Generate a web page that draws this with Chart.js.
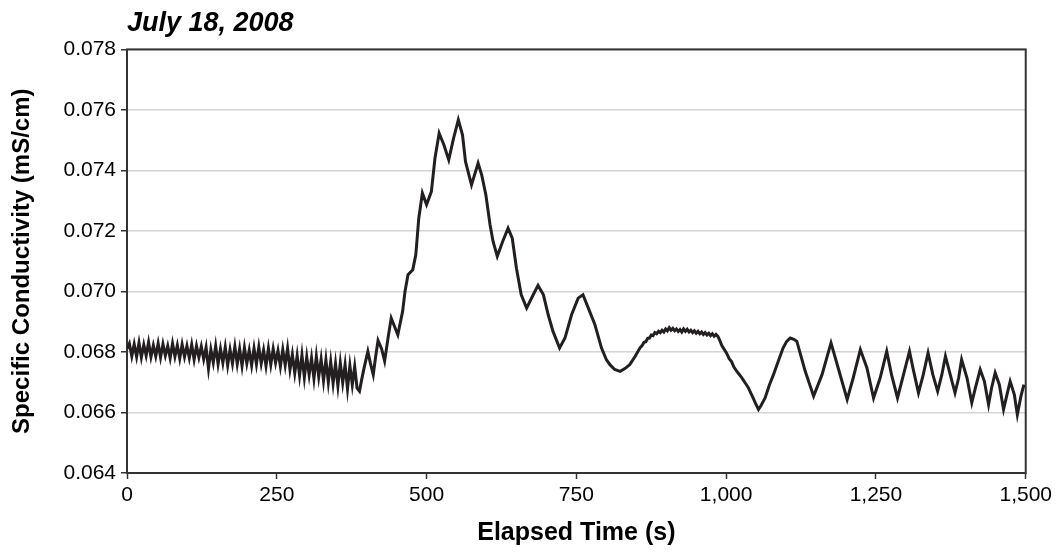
<!DOCTYPE html>
<html>
<head>
<meta charset="utf-8">
<title>Specific Conductivity</title>
<script src="https://cdn.jsdelivr.net/npm/chart.js@4/dist/chart.umd.min.js"></script>
<style>
  body { margin: 0; background: #fff; }
  canvas { display: block; }
</style>
</head>
<body>
<canvas id="chart-cond" width="1056" height="552"></canvas>
<script>
// Elapsed time (s) and specific conductivity (mS/cm) readings
const elapsedSec = [
  0, 4, 8, 12, 16, 20, 24, 28, 32, 36, 40, 44, 48, 52, 56, 60, 64, 68, 72, 76,
  80, 84, 88, 92, 96, 100, 104, 108, 112, 116, 120, 124, 128, 132, 136, 140, 144, 148, 152, 156,
  160, 164, 168, 172, 176, 180, 184, 188, 192, 196, 200, 204, 208, 212, 216, 220, 224, 228, 232, 236,
  240, 244, 248, 252, 256, 260, 264, 268, 272, 276, 280, 284, 288, 292, 296, 300, 304, 308, 312, 316,
  320, 324, 328, 332, 336, 340, 344, 348, 352, 356, 360, 364, 368, 372, 376, 380,
  384, 388, 392, 396, 402, 406, 411, 415, 419, 425, 430, 436, 441, 452, 460, 464, 469, 477, 482, 487,
  493, 500, 508, 514, 521, 529, 537, 545, 553, 560, 565, 575, 586, 592, 599, 606, 611, 618, 627, 636,
  643, 650, 658, 667, 678, 686, 695, 703, 711, 722, 731, 742, 753, 761, 770, 781, 792, 800, 806, 814,
  823, 831, 839, 848, 856,
  860, 863, 866, 869, 872, 875, 878, 881, 884, 887, 890, 893, 896, 899, 902, 905, 908, 911, 914, 917,
  920, 923, 926, 929, 932, 935, 938, 941, 944, 947, 950, 953, 956, 959, 962, 965, 968, 971, 974, 977,
  980, 983, 986, 989,
  993, 997, 1001, 1005, 1009, 1013, 1017, 1021, 1025, 1029, 1033, 1037, 1041, 1045, 1049, 1054, 1058, 1065, 1072, 1079,
  1088, 1095, 1101, 1107, 1113, 1118, 1132, 1146, 1160, 1175, 1187, 1202, 1212, 1224, 1235, 1246, 1257, 1268, 1276, 1286,
  1296, 1306, 1313, 1321, 1329, 1337, 1345, 1353, 1360, 1366, 1374, 1382, 1388, 1393, 1402, 1410, 1416, 1424, 1431, 1438,
  1443, 1449, 1456, 1463, 1470, 1474, 1481, 1486, 1492, 1497
];

const conductivity = [
  0.0681, 0.06828, 0.06786, 0.06826, 0.06784, 0.0683, 0.06782, 0.06824, 0.06788, 0.06832,
  0.06784, 0.06822, 0.06786, 0.06828, 0.06782, 0.06826, 0.06788, 0.0682, 0.0678, 0.06828,
  0.06785, 0.06822, 0.06778, 0.06825, 0.06784, 0.0682, 0.0678, 0.06824, 0.06775, 0.0682,
  0.06782, 0.06818, 0.06776, 0.06815, 0.06745, 0.06808, 0.06765, 0.0682, 0.0676, 0.0681,
  0.06764, 0.06816, 0.06756, 0.06808, 0.06762, 0.06818, 0.0676, 0.0681, 0.06754, 0.06814,
  0.06762, 0.06806, 0.06756, 0.06812, 0.0676, 0.06816, 0.06762, 0.06806, 0.06754, 0.06812,
  0.06758, 0.0681, 0.06764, 0.06804, 0.06752, 0.06808, 0.06756, 0.06812, 0.06742, 0.06792,
  0.0673, 0.06788, 0.06722, 0.0679, 0.06716, 0.06784, 0.06724, 0.0678, 0.06712, 0.06786,
  0.06718, 0.06776, 0.06705, 0.06774, 0.067, 0.06768, 0.06696, 0.06762, 0.06688, 0.06764,
  0.06698, 0.06758, 0.06678, 0.06755, 0.06692, 0.06752,
  0.0668, 0.0667, 0.06712, 0.0675, 0.06802, 0.06765, 0.06725, 0.06785, 0.06838, 0.0681,
  0.0677, 0.0685, 0.06912, 0.06857, 0.06934, 0.0700, 0.07055, 0.07072, 0.07121, 0.07242,
  0.07325, 0.07287, 0.0733, 0.0744, 0.07523, 0.07484, 0.07435, 0.07506, 0.07567, 0.07517,
  0.07429, 0.07352, 0.07424, 0.07385, 0.07319, 0.0722, 0.07165, 0.07116, 0.07165, 0.07209,
  0.07176, 0.07077, 0.06989, 0.06945, 0.06989, 0.0702, 0.06989, 0.06923, 0.06868, 0.06813,
  0.06846, 0.06923, 0.06978, 0.06989, 0.06945, 0.0689, 0.06813, 0.06775, 0.06758, 0.06742,
  0.06736, 0.06745, 0.06758, 0.06785, 0.06813,
  0.06822, 0.06832, 0.06834, 0.06845, 0.06846, 0.06856, 0.06854, 0.06864, 0.0686, 0.06868,
  0.06864, 0.06872, 0.06866, 0.06876, 0.0687, 0.0688, 0.06872, 0.06878, 0.0687, 0.06876,
  0.06868, 0.06874, 0.06866, 0.06876, 0.06868, 0.06875, 0.06866, 0.06872, 0.06864, 0.0687,
  0.06862, 0.06868, 0.0686, 0.06866, 0.06858, 0.06864, 0.06856, 0.06862, 0.06854, 0.0686,
  0.06852, 0.06858, 0.06852, 0.0684,
  0.0682, 0.06808, 0.06795, 0.06778, 0.06768, 0.0675, 0.06738, 0.06728, 0.06718, 0.06706,
  0.06694, 0.06682, 0.06665, 0.06648, 0.0663, 0.0661, 0.06622, 0.06648, 0.0669, 0.06725,
  0.06775, 0.06813, 0.06835, 0.06846, 0.06842, 0.06835, 0.06736, 0.06654, 0.06725, 0.0683,
  0.06747, 0.06643, 0.06714, 0.06808, 0.06747, 0.06648, 0.06714, 0.06802, 0.06725, 0.06648,
  0.06725, 0.06802, 0.06736, 0.06665, 0.06725, 0.06797, 0.06725, 0.0667, 0.06725, 0.06786,
  0.06725, 0.06665, 0.06714, 0.06775, 0.06714, 0.06632, 0.06681, 0.06742, 0.06703, 0.06626,
  0.06681, 0.06731, 0.06692, 0.0661, 0.0667, 0.06703, 0.06659, 0.06593, 0.06654, 0.06692
];

const xTicks = [0, 250, 500, 750, 1000, 1250, 1500];
const yTicks = [0.064, 0.066, 0.068, 0.070, 0.072, 0.074, 0.076, 0.078];

const FONT = '"Liberation Sans", Arial, Helvetica, sans-serif';
const INK = '#231f20';

// box around the plot area
const plotFrame = {
  id: 'plotFrame',
  beforeDatasetsDraw(chart) {
    const { ctx, chartArea: a } = chart;
    ctx.save();
    ctx.strokeStyle = '#333';
    ctx.lineWidth = 2;
    ctx.strokeRect(a.left, a.top, a.right - a.left, a.bottom - a.top);
    ctx.restore();
  }
};

const points = elapsedSec.map((t, i) => ({ x: t, y: conductivity[i] }));

new Chart(document.getElementById('chart-cond').getContext('2d'), {
  type: 'line',
  data: {
    datasets: [{
      label: 'Specific Conductivity',
      data: points,
      borderColor: INK,
      borderWidth: 3,
      pointRadius: 0,
      tension: 0,
      fill: false
    }]
  },
  options: {
    responsive: false,
    animation: false,
    devicePixelRatio: 1,
    layout: { padding: { top: 0, right: 30, left: 0, bottom: 0 } },
    plugins: {
      legend: { display: false },
      tooltip: { enabled: false },
      title: {
        display: true,
        text: 'July 18, 2008',
        align: 'start',
        fullSize: false,
        color: '#000',
        font: { family: FONT, size: 27, weight: 'bold', style: 'italic' },
        padding: { top: 7, bottom: 10 }
      }
    },
    scales: {
      x: {
        type: 'linear',
        min: 0,
        max: 1500,
        afterBuildTicks: (scale) => { scale.ticks = xTicks.map(v => ({ value: v })); },
        afterFit: (scale) => { scale.height = 79; },
        border: { display: false },
        grid: { drawOnChartArea: false, drawTicks: true, tickLength: 6, tickColor: '#333', tickWidth: 1.5 },
        ticks: {
          color: '#000',
          padding: 4,
          maxRotation: 0,
          font: { family: FONT, size: 21 },
          callback: (v) => Number(v).toLocaleString('en-US')
        },
        title: {
          display: true,
          text: 'Elapsed Time (s)',
          color: '#000',
          font: { family: FONT, size: 25, weight: 'bold' },
          padding: { top: 4, bottom: 4 }
        }
      },
      y: {
        min: 0.064,
        max: 0.078,
        afterBuildTicks: (scale) => { scale.ticks = yTicks.map(v => ({ value: v })); },
        afterFit: (scale) => { scale.width = 127; },
        border: { display: false },
        grid: { color: '#d4d4d4', lineWidth: 1.5, tickLength: 6, tickColor: '#333', tickWidth: 1.5 },
        ticks: {
          color: '#000',
          padding: 5,
          font: { family: FONT, size: 21 },
          callback: (v) => Number(v).toFixed(3)
        },
        title: {
          display: true,
          text: 'Specific Conductivity (mS/cm)',
          color: '#000',
          font: { family: FONT, size: 24, weight: 'bold' },
          padding: { top: 8, bottom: 0 }
        }
      }
    }
  },
  plugins: [plotFrame]
});
</script>
</body>
</html>
